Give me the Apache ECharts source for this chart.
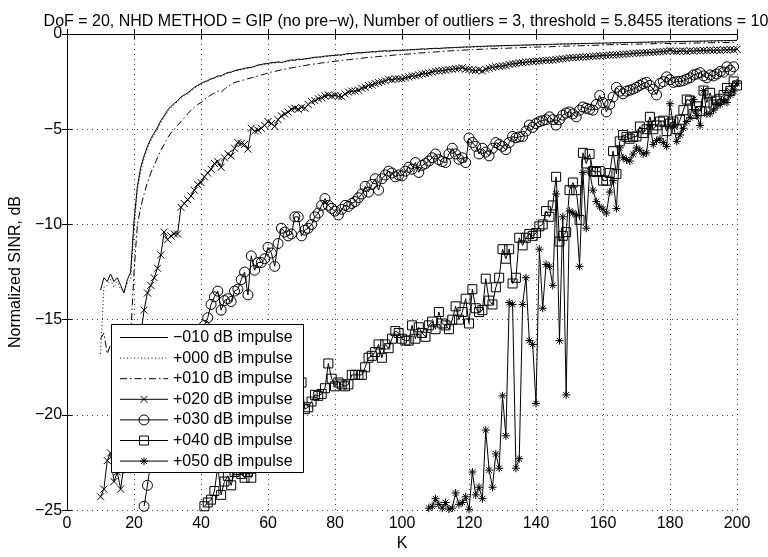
<!DOCTYPE html>
<html>
<head>
<meta charset="utf-8">
<script src="https://cdn.jsdelivr.net/npm/echarts@6/dist/echarts.min.js"></script>
<style>html,body{margin:0;padding:0;background:#fff;}#c{width:768px;height:557px;}</style>
</head>
<body>
<div id="c"></div>
<script>
// ---- data ----
const titleText = 'DoF = 20, NHD METHOD = GIP (no pre\u2212w), Number of outliers = 3, threshold = 5.8455 iterations = 10';
const seriesNames = ['\u2212010 dB impulse','+000 dB impulse','+010 dB impulse','+020 dB impulse','+030 dB impulse','+040 dB impulse','+050 dB impulse'];
const xTicks = [0,20,40,60,80,100,120,140,160,180,200];
const yTicks = [-25,-20,-15,-10,-5,0];

const startM010 = 10;
const sM010 = [
-13.45,-12.8,-13.0,-12.6,-13.0,-12.8,-13.2,-13.6,-12.9,-12.5,
-9.8,-8.0,-7.0,-6.4,-5.9,-5.5,-5.2,-4.9,-4.55,-4.3,
-4.0,-3.8,-3.65,-3.5,-3.3,-3.2,-3.1,-2.95,-2.8,-2.7,
-2.6,-2.5,-2.45,-2.35,-2.3,-2.2,-2.2,-2.1,-2.02,-2.0,
-1.92,-1.88,-1.85,-1.8,-1.77,-1.75,-1.7,-1.63,-1.6,-1.56,
-1.55,-1.5,-1.5,-1.46,-1.5,-1.45,-1.4,-1.36,-1.38,-1.31,
-1.34,-1.3,-1.28,-1.25,-1.22,-1.21,-1.2,-1.16,-1.15,-1.13,
-1.12,-1.1,-1.1,-1.06,-1.02,-1.04,-1.0,-0.98,-0.99,-0.96,
-0.95,-0.93,-0.94,-0.9,-0.9,-0.88,-0.9,-0.87,-0.86,-0.86,
-0.85,-0.84,-0.83,-0.82,-0.81,-0.8,-0.78,-0.79,-0.77,-0.76,
-0.75,-0.76,-0.74,-0.73,-0.72,-0.72,-0.7,-0.7,-0.69,-0.68,
-0.68,-0.67,-0.66,-0.65,-0.65,-0.64,-0.63,-0.63,-0.62,-0.62,
-0.61,-0.6,-0.6,-0.6,-0.59,-0.59,-0.58,-0.58,-0.57,-0.57,
-0.56,-0.56,-0.55,-0.55,-0.54,-0.54,-0.53,-0.53,-0.52,-0.52,
-0.52,-0.51,-0.51,-0.5,-0.5,-0.5,-0.49,-0.49,-0.48,-0.48,
-0.48,-0.47,-0.47,-0.46,-0.46,-0.46,-0.45,-0.45,-0.44,-0.44,
-0.44,-0.43,-0.43,-0.43,-0.42,-0.42,-0.42,-0.41,-0.41,-0.41,
-0.4,-0.4,-0.4,-0.39,-0.39,-0.39,-0.38,-0.38,-0.38,-0.37,
-0.37,-0.37,-0.36,-0.36,-0.36,-0.35,-0.35,-0.35,-0.34,-0.34,
-0.33];

const startP000 = 10;
const sP000 = [
-16.8,-13.3,-13.2,-12.9,-13.3,-13.0,-13.4,-13.5,-13.1,-12.9,
-10.2,-8.2,-7.2,-6.55,-6.0,-5.6,-5.3,-5.0,-4.65,-4.4,
-4.1,-3.88,-3.7,-3.55,-3.38,-3.25,-3.15,-3.0,-2.86,-2.75,
-2.65,-2.56,-2.48,-2.4,-2.33,-2.26,-2.22,-2.14,-2.06,-2.03,
-1.96,-1.91,-1.87,-1.83,-1.8,-1.77,-1.72,-1.67,-1.63,-1.6,
-1.57,-1.54,-1.52,-1.49,-1.5,-1.47,-1.43,-1.4,-1.39,-1.35,
-1.35,-1.32,-1.3,-1.27,-1.25,-1.23,-1.22,-1.19,-1.17,-1.15,
-1.14,-1.12,-1.11,-1.08,-1.06,-1.05,-1.02,-1.01,-1.0,-0.98,
-0.97,-0.95,-0.95,-0.93,-0.92,-0.9,-0.91,-0.89,-0.88,-0.88,
-0.87,-0.86,-0.85,-0.84,-0.83,-0.82,-0.81,-0.81,-0.79,-0.78,
-0.77,-0.77,-0.76,-0.75,-0.74,-0.73,-0.72,-0.72,-0.71,-0.7,
-0.7,-0.69,-0.68,-0.67,-0.67,-0.66,-0.65,-0.65,-0.64,-0.64,
-0.63,-0.62,-0.62,-0.61,-0.61,-0.6,-0.6,-0.59,-0.59,-0.58,
-0.58,-0.57,-0.57,-0.56,-0.56,-0.55,-0.55,-0.54,-0.54,-0.53,
-0.53,-0.53,-0.52,-0.52,-0.51,-0.51,-0.51,-0.5,-0.5,-0.49,
-0.49,-0.49,-0.48,-0.48,-0.47,-0.47,-0.47,-0.46,-0.46,-0.45,
-0.45,-0.45,-0.44,-0.44,-0.44,-0.43,-0.43,-0.43,-0.42,-0.42,
-0.42,-0.41,-0.41,-0.41,-0.4,-0.4,-0.4,-0.39,-0.39,-0.39,
-0.38,-0.38,-0.38,-0.37,-0.37,-0.37,-0.36,-0.36,-0.36,-0.35,
-0.35];

const startP010 = 10;
const sP010 = [
-16.0,-15.7,-16.8,-16.3,-16.6,-16.9,-17.2,-16.8,-16.5,-15.8,
-12.5,-10.0,-9.1,-8.4,-7.8,-7.3,-6.9,-6.5,-6.1,-5.8,
-5.45,-5.2,-5.0,-4.8,-4.6,-4.4,-4.2,-4.0,-3.85,-3.7,
-3.6,-3.45,-3.3,-3.2,-3.1,-3.0,-3.05,-2.9,-2.75,-2.65,
-2.55,-2.5,-2.45,-2.4,-2.35,-2.3,-2.25,-2.2,-2.15,-2.1,
-2.05,-2.0,-1.97,-1.92,-1.88,-1.85,-1.8,-1.78,-1.75,-1.72,
-1.68,-1.66,-1.62,-1.6,-1.57,-1.55,-1.52,-1.5,-1.48,-1.45,
-1.43,-1.41,-1.38,-1.37,-1.35,-1.33,-1.3,-1.3,-1.27,-1.25,
-1.23,-1.22,-1.2,-1.18,-1.17,-1.15,-1.14,-1.12,-1.1,-1.09,
-1.08,-1.06,-1.05,-1.03,-1.02,-1.0,-0.99,-0.98,-0.96,-0.95,
-0.94,-0.93,-0.92,-0.9,-0.89,-0.88,-0.87,-0.86,-0.85,-0.84,
-0.83,-0.82,-0.82,-0.8,-0.8,-0.79,-0.78,-0.77,-0.77,-0.76,
-0.75,-0.75,-0.74,-0.73,-0.73,-0.72,-0.71,-0.71,-0.7,-0.7,
-0.69,-0.68,-0.68,-0.67,-0.67,-0.66,-0.66,-0.65,-0.64,-0.64,
-0.63,-0.63,-0.62,-0.62,-0.61,-0.61,-0.6,-0.6,-0.59,-0.58,
-0.57,-0.57,-0.56,-0.56,-0.56,-0.55,-0.55,-0.54,-0.54,-0.53,
-0.53,-0.53,-0.52,-0.52,-0.52,-0.51,-0.51,-0.51,-0.5,-0.5,
-0.5,-0.5,-0.49,-0.49,-0.49,-0.48,-0.48,-0.48,-0.47,-0.47,
-0.47,-0.46,-0.46,-0.46,-0.45,-0.45,-0.45,-0.45,-0.44,-0.44,
-0.44];

const startP020 = 10;
const sP020 = [
-24.3,-23.9,-22.4,-22.0,-23.5,-23.0,-23.9,-22.6,-22.9,-22.2,
-20.0,-17.5,-15.8,-14.5,-13.6,-13.2,-12.8,-12.3,-11.6,-10.4,
-10.8,-10.6,-10.5,-10.5,-9.1,-8.9,-8.7,-8.5,-8.2,-7.9,
-7.8,-7.5,-7.3,-7.1,-6.8,-6.7,-7.0,-6.5,-6.3,-6.4,
-6.0,-5.7,-5.75,-5.8,-6.05,-4.95,-5.1,-5.05,-4.95,-4.8,
-4.6,-4.7,-4.85,-4.5,-4.3,-4.2,-4.1,-3.95,-3.9,-3.95,
-3.85,-3.9,-3.7,-3.55,-3.5,-3.4,-3.35,-3.25,-3.2,-3.25,
-3.22,-3.28,-3.3,-3.15,-3.05,-3.0,-3.0,-2.95,-2.85,-2.8,
-2.7,-2.68,-2.6,-2.55,-2.5,-2.45,-2.38,-2.4,-2.35,-2.36,
-2.35,-2.3,-2.25,-2.2,-2.2,-2.15,-2.1,-2.08,-2.05,-2.0,
-1.95,-1.94,-1.92,-1.9,-1.86,-1.85,-1.82,-1.8,-1.77,-1.85,
-1.86,-1.9,-1.92,-1.88,-1.94,-1.85,-1.8,-1.75,-1.72,-1.7,
-1.68,-1.65,-1.6,-1.57,-1.55,-1.51,-1.5,-1.48,-1.46,-1.45,
-1.43,-1.42,-1.4,-1.38,-1.38,-1.37,-1.34,-1.32,-1.3,-1.28,
-1.25,-1.24,-1.23,-1.22,-1.21,-1.2,-1.19,-1.17,-1.16,-1.14,
-1.13,-1.12,-1.11,-1.1,-1.09,-1.08,-1.07,-1.05,-1.04,-1.02,
-1.0,-1.0,-0.99,-0.98,-0.97,-0.96,-0.95,-0.93,-0.92,-0.9,
-0.86,-0.9,-0.92,-0.9,-0.89,-0.92,-0.88,-0.9,-0.87,-0.88,
-0.86,-0.87,-0.85,-0.86,-0.84,-0.86,-0.83,-0.84,-0.82,-0.83,
-0.8];

const startP030 = 23;
const sP030 = [
-24.8,-23.7,-22.5,-21.8,-21.3,-21.0,-20.6,
-20.2,-19.8,-19.5,-19.0,-18.6,-18.3,-17.8,-17.3,-16.9,-16.4,
-15.8,-15.3,-14.9,-14.2,-13.8,-13.5,-14.5,-14.0,-13.9,-14.05,
-13.5,-13.4,-12.9,-12.5,-13.7,-11.65,-12.4,-12.0,-12.0,-11.8,
-11.2,-11.5,-12.2,-11.0,-10.2,-10.4,-10.6,-10.5,-9.6,-9.6,
-10.6,-10.3,-10.2,-10.0,-9.6,-9.4,-9.0,-8.64,-9.0,-9.16,
-9.3,-9.5,-9.2,-9.0,-9.05,-8.9,-8.8,-8.6,-8.4,-8.0,
-8.3,-7.9,-7.6,-8.2,-7.6,-7.4,-7.2,-7.3,-7.5,-7.4,
-7.45,-7.2,-7.0,-7.1,-6.75,-7.27,-6.9,-6.8,-6.67,-6.5,
-6.3,-6.6,-6.7,-6.75,-6.3,-6.0,-6.3,-6.58,-6.5,-6.75,
-5.46,-5.7,-5.9,-6.3,-6.0,-6.2,-6.4,-6.0,-5.7,-5.8,
-5.9,-6.07,-5.7,-5.38,-5.45,-5.4,-5.38,-5.1,-4.78,-4.9,
-4.7,-4.6,-4.55,-4.5,-4.35,-4.5,-4.78,-4.5,-4.26,-4.15,
-4.09,-4.2,-4.35,-4.0,-3.83,-3.9,-3.95,-4.0,-3.7,-3.23,
-3.6,-4.09,-3.7,-3.31,-2.8,-3.0,-3.14,-3.0,-2.95,-2.89,
-2.8,-2.7,-2.6,-2.54,-2.7,-2.9,-3.2,-2.6,-2.5,-2.25,
-2.4,-2.54,-2.5,-2.49,-2.45,-2.37,-2.3,-2.15,-2.1,-2.03,
-2.2,-2.3,-2.15,-2.2,-2.1,-1.97,-2.0,-1.72,-1.9,-1.72];

const startP040 = 41;
const sP040 = [
-24.8,-24.6,-24.45,-24.0,-22.7,-24.2,-23.5,-23.2,-23.7,
-23.0,-22.9,-23.1,-23.3,-23.0,-23.3,-22.6,-22.2,-21.8,-21.5,
-21.2,-20.9,-20.6,-20.3,-20.0,-19.8,-19.6,-19.3,-19.0,-18.7,
-18.3,-19.7,-19.6,-19.3,-18.95,-19.0,-18.9,-18.6,-17.3,-18.1,
-18.5,-18.3,-18.4,-18.5,-18.4,-17.9,-17.9,-17.9,-17.9,-17.5,
-17.0,-16.9,-16.7,-16.3,-17.0,-16.3,-16.5,-16.0,-15.6,-15.7,
-16.0,-16.1,-16.1,-15.3,-16.0,-15.4,-15.7,-15.9,-15.3,-15.1,
-15.5,-14.6,-15.2,-15.3,-15.5,-15.0,-14.3,-15.0,-14.6,-13.9,
-15.2,-13.4,-14.4,-14.6,-14.5,-12.85,-14.0,-14.2,-13.3,-12.8,
-11.3,-11.8,-11.3,-13.1,-12.8,-10.7,-11.1,-10.7,-10.5,-10.6,
-10.45,-10.1,-10.0,-9.3,-9.6,-9.0,-7.5,-10.9,-10.6,-10.4,
-8.2,-7.8,-8.2,-9.76,-6.24,-6.8,-6.3,-7.2,-7.25,-7.2,
-7.7,-7.7,-7.3,-6.15,-7.35,-5.64,-5.3,-5.4,-5.5,-5.4,
-5.38,-4.86,-5.2,-5.0,-4.35,-5.0,-4.8,-4.6,-4.55,-5.1,
-4.7,-4.6,-5.0,-4.5,-4.0,-3.44,-3.5,-4.2,-3.8,-4.04,
-2.97,-3.6,-3.09,-3.7,-3.5,-3.4,-3.2,-2.83,-3.0,-2.49,
-2.7];

const startP050 = 108;
const sP050 = [
-24.9,-24.8,
-24.4,-24.7,-24.9,-24.6,-24.95,-24.9,-24.1,-24.7,-24.6,-24.3,
-24.96,-23.0,-24.2,-23.8,-24.4,-20.8,-22.9,-23.8,-22.05,-22.8,
-19.0,-21.1,-14.1,-14.2,-22.8,-22.3,-14.2,-12.8,-16.1,-16.3,
-19.4,-11.3,-14.4,-12.1,-12.2,-13.2,-8.4,-16.1,-9.6,-18.95,
-9.3,-9.4,-9.5,-12.2,-7.27,-10.2,-7.2,-8.2,-8.8,-9.07,
-9.2,-9.4,-8.3,-7.7,-9.16,-5.98,-6.5,-6.6,-6.67,-6.3,
-5.98,-6.1,-6.3,-6.24,-4.78,-5.8,-5.6,-5.5,-5.7,-5.9,
-3.66,-4.78,-5.64,-5.3,-4.95,-4.6,-4.4,-3.44,-4.3,-4.8,
-2.97,-4.2,-4.18,-4.0,-3.7,-3.7,-3.5,-3.6,-3.2,-3.0,
-2.58];

// ---- chart ----
function pairs(start, vals){ return vals.map((v,i)=>[start+i, v]); }
const FONT = 'Liberation Sans, Arial, Helvetica, sans-serif';
const minusFmt = v => String(v).replace('-', '\u2212');
const XSYM = 'path://M0,0L10,10M10,0L0,10';
const ASYM = 'path://M5,0L5,10M0,5L10,5M1.5,1.5L8.5,8.5M8.5,1.5L1.5,8.5';
const symbols = ['none','none','none', XSYM, 'circle', 'rect', ASYM];
const symbolSizes = [0,0,0,7,10,9,8];
const lineTypes = ['solid',[1,2.5],[7,3,1.5,3],'solid','solid','solid','solid'];

function mk(i, data){
  const sym = symbols[i];
  return {
    name: seriesNames[i], type:'line', data, showSymbol: sym !== 'none', showAllSymbol:true,
    symbol: sym, symbolSize: symbolSizes[i],
    lineStyle:{color:'#000', width:1, type: lineTypes[i]},
    itemStyle:{color:'none', borderColor:'#000', borderWidth:1},
    emphasis:{disabled:true}, z:2, clip:true
  };
}

// ---- legend box drawn as graphic (line sample + marker + text) ----
function legendGraphics(){
  const els = [];
  const box = {x:111, y:324, w:192, h:148};
  els.push({type:'rect', shape:{x:box.x+0.5, y:box.y+0.5, width:box.w, height:box.h},
            style:{fill:'#fff', stroke:'#000', lineWidth:1}, z:100});
  const dashes = [null, [1,2.5], [7,3,1.5,3], null, null, null, null];
  seriesNames.forEach((name, i) => {
    const cy = 337.5 + i*20.6;
    const x1 = 120, x2 = 168, cx = 144;
    els.push({type:'line', shape:{x1, y1:cy, x2, y2:cy},
      style:{stroke:'#000', lineWidth:1, lineDash:dashes[i]}, z:101});
    const mstyle = {fill:'none', stroke:'#000', lineWidth:1};
    if (i === 3) {
      els.push({type:'line', shape:{x1:cx-3.5, y1:cy-3.5, x2:cx+3.5, y2:cy+3.5}, style:mstyle, z:102});
      els.push({type:'line', shape:{x1:cx+3.5, y1:cy-3.5, x2:cx-3.5, y2:cy+3.5}, style:mstyle, z:102});
    } else if (i === 4) {
      els.push({type:'circle', shape:{cx, cy, r:5}, style:mstyle, z:102});
    } else if (i === 5) {
      els.push({type:'rect', shape:{x:cx-4.5, y:cy-4.5, width:9, height:9}, style:mstyle, z:102});
    } else if (i === 6) {
      const r = 4, d = 2.9;
      [[0,-r,0,r],[-r,0,r,0],[-d,-d,d,d],[d,-d,-d,d]].forEach(s => {
        els.push({type:'line', shape:{x1:cx+s[0], y1:cy+s[1], x2:cx+s[2], y2:cy+s[3]}, style:mstyle, z:102});
      });
    }
    els.push({type:'text', x:173, y:cy, z:103,
      style:{text:name, fill:'#000', font:'16px ' + FONT, verticalAlign:'middle', align:'left'}});
  });
  return els;
}

const chart = echarts.init(document.getElementById('c'), null, {renderer:'canvas'});
chart.setOption({
  animation:false,
  backgroundColor:'#fff',
  textStyle:{fontFamily:FONT},
  title:{text:titleText, left:401, top:9, textAlign:'center',
    textStyle:{fontFamily:FONT, fontSize:16, fontWeight:'normal', color:'#000'}},
  grid:{left:67, right:31, top:34, bottom:38, containLabel:false},
  xAxis:[
    {type:'value', min:xTicks[0], max:xTicks[xTicks.length-1], interval:20, position:'bottom',
     name:'K', nameLocation:'middle', nameGap:19,
     nameTextStyle:{fontFamily:FONT, fontSize:16, color:'#000'},
     axisLine:{lineStyle:{color:'#000', width:1}},
     axisTick:{inside:true, length:5, lineStyle:{color:'#000'}},
     axisLabel:{fontFamily:FONT, fontSize:16, color:'#000', margin:5},
     splitLine:{show:true, lineStyle:{color:'#444', width:1, type:[1,4]}}},
    {type:'value', min:xTicks[0], max:xTicks[xTicks.length-1], interval:20, position:'top',
     axisLine:{lineStyle:{color:'#000', width:1}},
     axisTick:{inside:true, length:5, lineStyle:{color:'#000'}},
     axisLabel:{show:false}, splitLine:{show:false}}
  ],
  yAxis:[
    {type:'value', min:yTicks[0], max:yTicks[yTicks.length-1], interval:5, position:'left',
     name:'Normalized SINR, dB', nameLocation:'middle', nameGap:36,
     nameTextStyle:{fontFamily:FONT, fontSize:16, color:'#000'},
     axisLine:{lineStyle:{color:'#000', width:1}},
     axisTick:{inside:true, length:5, lineStyle:{color:'#000'}},
     axisLabel:{fontFamily:FONT, fontSize:16, color:'#000', margin:5, formatter:minusFmt},
     splitLine:{show:true, lineStyle:{color:'#444', width:1, type:[1,4]}}},
    {type:'value', min:yTicks[0], max:yTicks[yTicks.length-1], interval:5, position:'right',
     axisLine:{show:true, lineStyle:{color:'#000', width:1}},
     axisTick:{show:true, inside:true, length:5, lineStyle:{color:'#000'}},
     axisLabel:{show:false}, splitLine:{show:false}}
  ],
  graphic: legendGraphics(),
  series:[
    mk(0, pairs(startM010, sM010)),
    mk(1, pairs(startP000, sP000)),
    mk(2, pairs(startP010, sP010)),
    mk(3, pairs(startP020, sP020)),
    mk(4, pairs(startP030, sP030)),
    mk(5, pairs(startP040, sP040)),
    mk(6, pairs(startP050, sP050))
  ]
});
</script>
</body>
</html>
